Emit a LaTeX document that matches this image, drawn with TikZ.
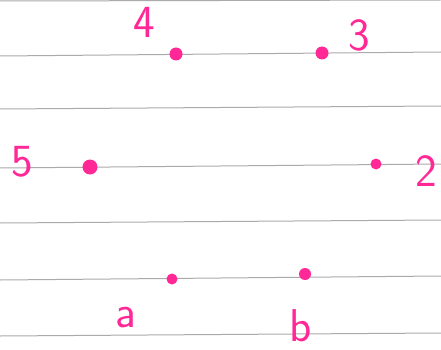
\documentclass[tikz,border=0pt]{standalone}
\usepackage{tikz}

\definecolor{inkpink}{RGB}{255,40,150}
\definecolor{rulegray}{RGB}{170,170,170}

\begin{document}
\begin{tikzpicture}[x=1pt, y=-1pt,
    rule/.style={rulegray, line width=1pt},
    dot/.style={circle, fill=inkpink, inner sep=0pt, minimum size=#1},
    dot/.default=12pt,
    lbl/.style={inkpink, font=\sffamily\fontsize{46}{46}\selectfont, inner sep=0pt}]
    \useasboundingbox (0,0) rectangle (441,350);
    \fill[white] (0,0) rectangle (441,350);

    % Ruled lines of the page
    \foreach \yl/\yr in {1/0, 56/52, 109/106, 168/164, 223/220, 280/276, 336/333}
        \draw[rule] (0,\yl) -- (441,\yr);

    % Points
    \node[dot=13pt] (P4) at (176,54) {};
    \node[dot=13pt] (P3) at (322,53) {};
    \node[dot=15pt] (P5) at (90,167) {};
    \node[dot=11pt] (P2) at (376,164) {};
    \node[dot=11pt] (Pa) at (172,279) {};
    \node[dot=12pt] (Pb) at (305,274) {};

    % Labels
    \node[lbl] (L4) at (144,22) {4};
    \node[lbl] (L3) at (359,35) {3};
    \node[lbl] (L5) at (22,162) {5};
    \node[lbl] (L2) at (426,171) {2};
    \node[lbl] (La) at (126,318) {a};
    \node[lbl] (Lb) at (301,326) {b};
\end{tikzpicture}
\end{document}
